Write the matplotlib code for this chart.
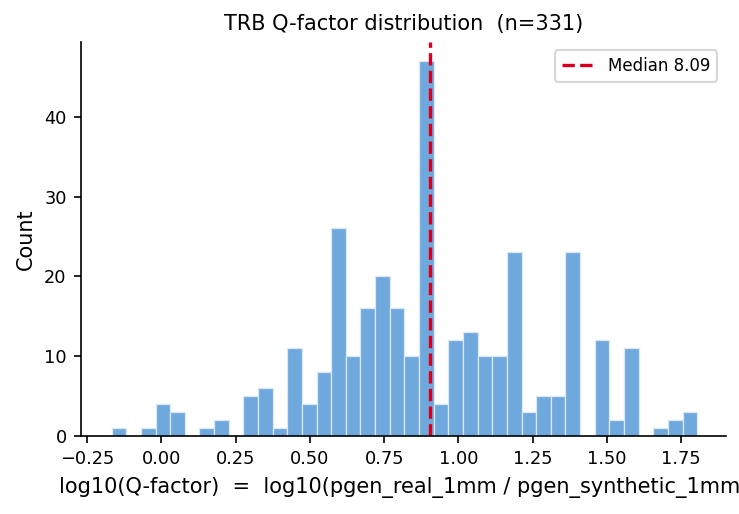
import numpy as np
import matplotlib
matplotlib.use("Agg")
import matplotlib.pyplot as plt

# =====================================
# Data
# =====================================

bin_start = -0.168
bin_width = 0.0493

counts = [1, 0, 1, 4, 3, 0, 1, 2, 0, 5,
          6, 1, 11, 4, 8, 26, 10, 16, 20, 16,
          10, 47, 4, 12, 13, 10, 10, 23, 3, 5,
          5, 23, 0, 12, 2, 11, 0, 1, 2, 3]

median_q = 8.09
median_log = 0.904   # where the dashed line sits in the reference

n_total = sum(counts)

edges = bin_start + bin_width * np.arange(len(counts) + 1)
centers = (edges[:-1] + edges[1:]) / 2

# =====================================
# Plot
# =====================================

fig, ax = plt.subplots(figsize=(739 / 150, 514 / 150), dpi=150)

ax.hist(centers, bins=edges, weights=counts,
        color="#6fa8dc", edgecolor="#dbe8f7", linewidth=0.6)

ax.axvline(median_log, color="#d7001f", linestyle="--",
           linewidth=1.6, label=f"Median {median_q:.2f}")

ax.set_title(f"TRB Q-factor distribution  (n={n_total})", fontsize=10)
ax.set_xlabel("log10(Q-factor)  =  log10(pgen_real_1mm / pgen_synthetic_1mm)",
              fontsize=10)
ax.set_ylabel("Count", fontsize=10)
ax.tick_params(labelsize=8.5)
ax.set_xlim(-0.27, 1.9)
ax.set_xticks(np.arange(-0.25, 1.76, 0.25))

ax.spines["top"].set_visible(False)
ax.spines["right"].set_visible(False)
ax.legend(fontsize=8, loc="upper right")

fig.subplots_adjust(left=0.11, right=0.982, top=0.918, bottom=0.152)
fig.savefig("out.png", dpi=150)
